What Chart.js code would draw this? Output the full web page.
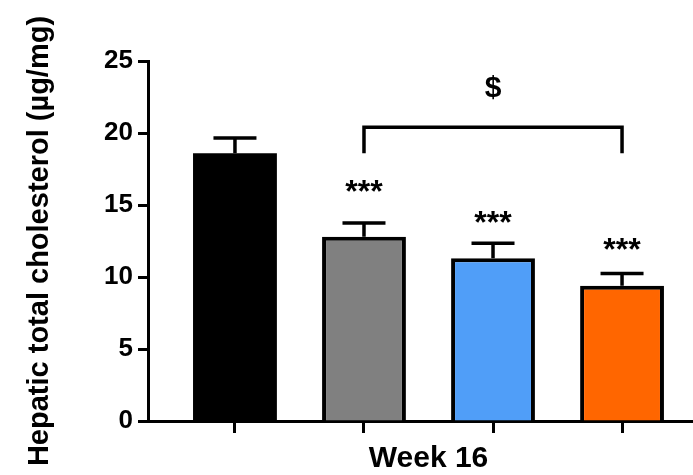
<!DOCTYPE html>
<html>
<head>
<meta charset="utf-8">
<script src="https://cdn.jsdelivr.net/npm/chart.js@4/dist/chart.umd.min.js"></script>
<style>
  html, body { margin: 0; padding: 0; background: #fff; }
  canvas { display: block; }
</style>
</head>
<body>
<canvas id="chart" width="693" height="475"></canvas>
<script>
// Hepatic total cholesterol at week 16, mean ± SEM per group
const groups = ['Group 1', 'Group 2', 'Group 3', 'Group 4'];
const means = [18.6, 12.8, 11.3, 9.4];
const sems = [1.05, 0.95, 1.05, 0.85];
const barColors = ['#000000', '#808080', '#509ef8', '#ff6600'];
const sigMarks = ['', '***', '***', '***'];
const sigLevels = [null, 16.4, 14.3, 12.4];
const yTicks = [0, 5, 10, 15, 20, 25];
const bracketFrom = 1, bracketTo = 3;
const bracketTop = 20.4, bracketFoot = 18.6;
const bracketMark = '$';
const bracketMarkLevel = 23.1;
const groupTitle = 'Week 16';
const yTitle = 'Hepatic total cholesterol (µg/mg)';

const FAMILY = "'Liberation Sans', Arial, Helvetica, sans-serif";

// Error bars, significance marks, comparison bracket and group label
const overlays = {
  id: 'overlays',
  afterDatasetsDraw(chart) {
    const { ctx, chartArea } = chart;
    const ys = chart.scales.y;
    const bars = chart.getDatasetMeta(0).data;
    ctx.save();
    ctx.strokeStyle = '#000';
    ctx.fillStyle = '#000';
    ctx.lineWidth = 3.5;
    ctx.lineCap = 'butt';
    ctx.lineJoin = 'miter';

    bars.forEach((bar, i) => {
      const yBase = ys.getPixelForValue(means[i]);
      const yTop = ys.getPixelForValue(means[i] + sems[i]);
      ctx.beginPath();
      ctx.moveTo(bar.x, yBase);
      ctx.lineTo(bar.x, yTop);
      ctx.moveTo(bar.x - 21.5, yTop);
      ctx.lineTo(bar.x + 21.5, yTop);
      ctx.stroke();
    });

    const starSize = 32;
    ctx.font = `bold ${starSize}px ${FAMILY}`;
    ctx.textAlign = 'center';
    ctx.textBaseline = 'alphabetic';
    bars.forEach((bar, i) => {
      if (!sigMarks[i]) return;
      const y = ys.getPixelForValue(sigLevels[i]);
      ctx.fillText(sigMarks[i], bar.x, y + starSize * 0.55);
    });

    const x1 = bars[bracketFrom].x, x2 = bars[bracketTo].x;
    const yT = ys.getPixelForValue(bracketTop);
    const yF = ys.getPixelForValue(bracketFoot);
    ctx.beginPath();
    ctx.moveTo(x1, yF);
    ctx.lineTo(x1, yT);
    ctx.lineTo(x2, yT);
    ctx.lineTo(x2, yF);
    ctx.stroke();

    ctx.font = `bold 30px ${FAMILY}`;
    ctx.textBaseline = 'middle';
    ctx.fillText(bracketMark, (x1 + x2) / 2, ys.getPixelForValue(bracketMarkLevel));

    ctx.textBaseline = 'alphabetic';
    ctx.fillText(groupTitle, (bars[1].x + bars[2].x) / 2, chartArea.bottom + 46);
    ctx.restore();
  }
};

new Chart(document.getElementById('chart'), {
  type: 'bar',
  data: {
    datasets: [{
      data: means.map((v, i) => ({ x: i, y: v })),
      backgroundColor: barColors,
      borderColor: '#000',
      // the solid black bar needs no separate outline
      borderWidth: barColors.map(c => (c === '#000000' ? 0 : 4)),
      borderSkipped: 'start',
      barPercentage: 0.65,
      categoryPercentage: 1
    }]
  },
  options: {
    responsive: false,
    animation: false,
    devicePixelRatio: 1,
    layout: { padding: { top: 61, right: 0, bottom: 0, left: 0 } },
    plugins: { legend: { display: false }, tooltip: { enabled: false } },
    scales: {
      x: {
        type: 'linear',
        offset: false,
        min: -0.674,
        max: 3.55,
        afterBuildTicks: s => { s.ticks = groups.map((_, i) => ({ value: i })); },
        afterFit: s => { s.height = 54; },
        ticks: { display: false },
        grid: { offset: false, drawOnChartArea: false, drawTicks: true, tickLength: 12, tickWidth: 3, tickColor: '#000' },
        border: { display: true, color: '#000', width: 3 }
      },
      y: {
        min: 0,
        max: 25,
        afterBuildTicks: s => { s.ticks = yTicks.map(v => ({ value: v })); },
        afterFit: s => { s.width = 148; },
        ticks: { color: '#000', padding: 5, font: { family: FAMILY, size: 26, weight: 'bold' } },
        grid: { drawOnChartArea: false, drawTicks: true, tickLength: 10, tickWidth: 3, tickColor: '#000' },
        border: { display: true, color: '#000', width: 3 },
        title: {
          display: true,
          text: yTitle,
          color: '#000',
          padding: { top: 23, bottom: 0 },
          font: { family: FAMILY, size: 29, weight: 'bold' }
        }
      }
    }
  },
  plugins: [overlays]
});
</script>
</body>
</html>
